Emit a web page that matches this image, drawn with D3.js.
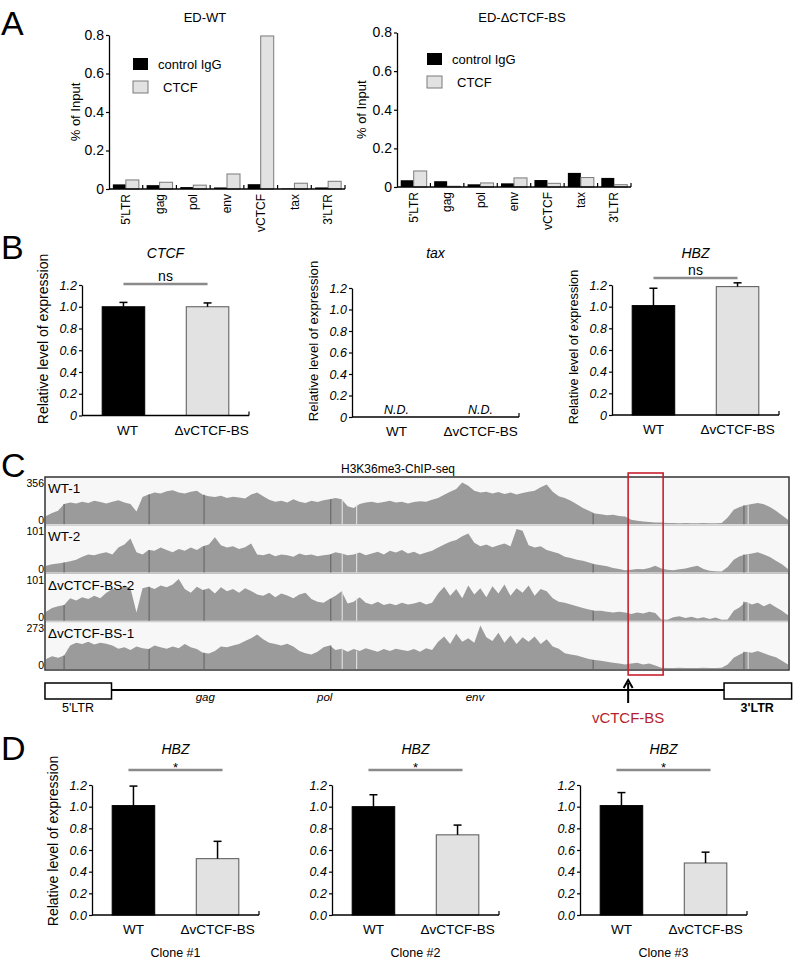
<!DOCTYPE html>
<html><head><meta charset="utf-8">
<script src="https://cdn.jsdelivr.net/npm/d3@7"></script>
<style>body{margin:0;background:#fff}</style>
</head><body>
<svg id="fig" width="796" height="962"></svg>
<script>
// ---------------- DATA ----------------
// Panel A: ChIP-qPCR (% of input)
const aCategories = ["5'LTR","gag","pol","env","vCTCF","tax","3'LTR"];
const aWtIgG   = [0.024,0.020,0.010,0.008,0.025,0.002,0.008];
const aWtCTCF  = [0.047,0.035,0.020,0.078,0.795,0.030,0.040];
const aDelIgG  = [0.035,0.030,0.014,0.019,0.036,0.073,0.047];
const aDelCTCF = [0.083,0.004,0.021,0.047,0.019,0.049,0.012];
const aYTicks  = [0,0.2,0.4,0.6,0.8];

// Panels B and D: relative expression
const exprGroups = ["WT","\u0394vCTCF-BS"];
const exprYTicks = [0,0.2,0.4,0.6,0.8,1.0,1.2];
const bCtcfMean = [1.00,1.00],  bCtcfErr = [0.04,0.035];
const bTaxMean  = [null,null]; // N.D.
const bHbzMean  = [1.01,1.185], bHbzErr  = [0.16,0.035];
const dClone1Mean = [1.01,0.52], dClone1Err = [0.18,0.16];
const dClone2Mean = [1.00,0.74], dClone2Err = [0.11,0.09];
const dClone3Mean = [1.01,0.48], dClone3Err = [0.12,0.10];

// Panel C: H3K36me3 ChIP-seq coverage (% of track scale), 124 bins along provirus
const trackNames = ["WT-1","WT-2","\u0394vCTCF-BS-2","\u0394vCTCF-BS-1"];
const trackMax   = [356,101,101,273];
const track1 = [18,25,30, 45,48,46,50,47,52,49,46,50,53,48,45, 28,60, 66,70,68,73,75,70,68,72,74, 65,62,60,63,58,61,59,57, 66,70,62, 54,50,52,48,55,50,47,52,49,53,55, 58,55,40,36,45, 48,50,47,49,52,48,50,46,49,51,50,54, 58,65,72,78,92,85, 74,70,72,68,71,67,70,66,69,72,74, 82,88,72, 62,58,52,44,36, 30,24,22,20,21,18,17, 10,8,6,5,4,4, 3,3,2,3,2,2,3,2,2,3, 15,32,38,42,45,47, 44,38,30,20,10];
const track2 = [15,18,20,22,25,28, 35,40,38,42,45,40, 55,62,75, 45,40,50, 48,55,50,45,52,48,55,50,58,62, 78, 60,55,58,52,56,64, 40,38,42,36,40,38,35,42,38,40,36,38,40, 45,42,38,40,44,38,42,46,40, 48,44,50,42,46,40,44,48, 55,62,68,72,80,86, 66,58,62,56,60,64,58, 96,92, 60,55,58,50,46,42, 35,32,28,26,22,18,16, 14,10,8,5, 6,8,7,10,15,9,6,5,7,9,12,15,8,4,3,2, 12,28,36,40,42,45, 40,34,26,18,8];
const track3 = [20,28,32,35, 50,45,52,48,55,50, 62,70,68,78,72, 18, 72,75,70,78,74,80,92, 70,62,75,68,72,60,74,65,70,62,72,66, 58,55,62,52,60,56,50,58,62,48, 42,40,48, 55,65, 38,42,52,40,36,42, 35,38,34,40,36,38,42,36,40, 60,75,55,70,50,78,58,72,52,76,60,80,55,72,62,78,55,70,65,50, 42,40,36,32,28,25,22, 22,20,18,20,18, 15,18,16,20,17, 3,2, 8,10,6,9,5,8,4,7,2, 3,22,30,42,36,40, 32,38,30,22,12];
const track4 = [22,28,25,30, 52,58,55,60,54,58,56,52, 45,48,42,50,46,44,52,48,45,50,46,55,48,44, 36,34,40, 50,48,52,55, 62,68,76,66, 58,55,52,56,50, 40,35,32,38, 48,52, 42,45,38,44,40,46,42,38,44,40,45,42,40,44,38,46,42, 60,72,55,78,60,68,58,96,70,62,80,58,74,55,70,60,72,55,66,50,45, 35,32,30,26,22,20,18, 16,14,12,10,12,14,10,12,8, 3,2,2,3,2,2,2,3,2,2,3, 10,25,32,38,36,40, 35,30,26,18,10];
const darkMarkBins  = [3.0,17.1,26.2,47.2,90.7,115.7];
const whiteMarkBins = [49.1,51.5,116.4];
// provirus map (bin coordinates)
const ltrBoxes   = [{name:"5'LTR",start:-0.17,end:10.86,label:5.3,bold:false},{name:"3'LTR",start:112.4,end:123.6,label:117.9,bold:true}];
const geneLabels = [{name:"gag",pos:26.4},{name:"pol",pos:46.2},{name:"env",pos:71.1}];
const ctcfSite   = {name:"vCTCF-BS",pos:96.5,boxStart:96.5,boxEnd:102.3};

// ---------------- DRAWING ----------------
const FONT = '"Liberation Sans", Arial, Helvetica, sans-serif';
const svg = d3.select("#fig").attr("font-family",FONT);

function txt(t,x,y,opt={}){
  const e = svg.append("text").attr("x",x).attr("y",y).text(t)
    .attr("font-size",opt.size||13).attr("fill",opt.fill||"#000")
    .attr("text-anchor",opt.anchor||"start");
  if(opt.italic) e.attr("font-style","italic");
  if(opt.bold) e.attr("font-weight","bold");
  if(opt.rotate) e.attr("transform",`rotate(-90,${x},${y})`);
  return e;
}
function styleAxis(g,fs,italic){
  g.attr("font-family",FONT).attr("font-size",fs);
  g.select(".domain").attr("stroke","#000").attr("stroke-width",1.3);
  g.selectAll(".tick line").attr("stroke","#000").attr("stroke-width",1.2);
  g.selectAll(".tick text").attr("fill","#000").attr("font-style",italic?"italic":"normal");
}

// panel letters
[["A",35],["B",259],["C",477],["D",760]].forEach(([l,y])=>txt(l,1,y,{size:34}));

// ---- Panel A ----
function chipChart(c){
  const x = d3.scaleBand().domain(aCategories).range([c.x0,c.x1]).padding(0);
  const y = d3.scaleLinear().domain([0,0.8]).range([c.y0,c.yTop]);
  const bw = 13;
  const g = svg.append("g");
  g.selectAll(".igg").data(aCategories).join("rect")
    .attr("x",d=>x(d)+x.bandwidth()/2-bw).attr("width",bw)
    .attr("y",(d,i)=>y(c.igg[i])).attr("height",(d,i)=>y(0)-y(c.igg[i]))
    .attr("fill","#000");
  g.selectAll(".ctcf").data(aCategories).join("rect")
    .attr("x",d=>x(d)+x.bandwidth()/2).attr("width",bw)
    .attr("y",(d,i)=>y(c.ctcf[i])).attr("height",(d,i)=>y(0)-y(c.ctcf[i]))
    .attr("fill","#e2e2e2").attr("stroke","#7a7a7a").attr("stroke-width",1);
  const ay = g.append("g").attr("transform",`translate(${c.x0},0)`)
    .call(d3.axisLeft(y).tickValues(aYTicks).tickSize(3).tickSizeOuter(0).tickPadding(2)
      .tickFormat(d=>d===0?"0":d3.format(".1f")(d)));
  styleAxis(ay,14,false);
  g.append("line").attr("x1",c.x0).attr("x2",c.x1).attr("y1",y(0)).attr("y2",y(0)).attr("stroke","#000").attr("stroke-width",1.5);
  aCategories.forEach((d,i)=>{
    const bx = x(d)+x.bandwidth();
    g.append("line").attr("x1",bx).attr("x2",bx).attr("y1",y(0)).attr("y2",y(0)-4).attr("stroke","#000").attr("stroke-width",1.2);
  });
  aCategories.forEach(d=>{
    txt(d,x(d)+x.bandwidth()/2,y(0)+5,{size:12,anchor:"end",rotate:true}).attr("dy","0.35em");
  });
  txt("% of Input",c.ylabX,(c.y0+c.yTop)/2,{size:13,anchor:"middle",rotate:true});
  txt(c.title,c.titleX,22,{size:13,anchor:"middle"});
  // legend
  svg.append("rect").attr("x",c.legX).attr("y",c.legY).attr("width",15).attr("height",12).attr("fill","#000");
  txt("control IgG",c.legX+25,c.legY+11,{size:13});
  svg.append("rect").attr("x",c.legX).attr("y",c.legY+23).attr("width",15).attr("height",12).attr("fill","#e2e2e2").attr("stroke","#7a7a7a");
  txt("CTCF",c.legX+30,c.legY+34,{size:13});
}
chipChart({x0:109,x1:345,y0:189,yTop:35,igg:aWtIgG,ctcf:aWtCTCF,title:"ED-WT",titleX:205,legX:133,legY:58,ylabX:80});
chipChart({x0:397,x1:631,y0:187,yTop:32.5,igg:aDelIgG,ctcf:aDelCTCF,title:"ED-\u0394CTCF-BS",titleX:522,legX:427,legY:53,ylabX:366});

// ---- Panels B & D ----
function exprChart(c){
  const W = 167;
  const x = d3.scaleBand().domain(exprGroups).range([c.x0,c.x0+W]).paddingInner(0.494).paddingOuter(0.24);
  const y = d3.scaleLinear().domain([0,1.2]).range([c.y0,c.yTop]);
  const g = svg.append("g");
  const cx = d=>x(d)+x.bandwidth()/2;
  exprGroups.forEach((d,i)=>{
    const v = c.mean[i];
    if(v==null){
      txt("N.D.",cx(d)+3,y(0)-3,{size:12.5,italic:true,anchor:"middle"});
      return;
    }
    g.append("rect").attr("x",x(d)).attr("width",x.bandwidth()).attr("y",y(v)).attr("height",y(0)-y(v))
      .attr("fill",i===0?"#000":"#e2e2e2").attr("stroke",i===0?"#000":"#555").attr("stroke-width",1);
    const e = c.err[i];
    g.append("line").attr("x1",cx(d)).attr("x2",cx(d)).attr("y1",y(v)).attr("y2",y(v+e)).attr("stroke","#000").attr("stroke-width",1.5);
    g.append("line").attr("x1",cx(d)-4).attr("x2",cx(d)+4).attr("y1",y(v+e)).attr("y2",y(v+e)).attr("stroke","#000").attr("stroke-width",1.5);
  });
  const ay = g.append("g").attr("transform",`translate(${c.x0},0)`)
    .call(d3.axisLeft(y).tickValues(exprYTicks).tickSize(3).tickSizeOuter(0).tickPadding(2)
      .tickFormat(d=>d===0?c.zero:d3.format(".1f")(d)));
  styleAxis(ay,12.5,true);
  g.append("line").attr("x1",c.x0).attr("x2",c.x0+W).attr("y1",y(0)).attr("y2",y(0)).attr("stroke","#000").attr("stroke-width",1.5);
  g.append("line").attr("x1",c.x0+W).attr("x2",c.x0+W).attr("y1",y(0)).attr("y2",y(0)-4).attr("stroke","#000").attr("stroke-width",1.2);
  exprGroups.forEach(d=>txt(d,cx(d)+(c.lblOff||0),y(0)+19,{size:13.5,anchor:"middle"}));
  const mid = c.x0+W/2;
  txt(c.title,mid,c.titleY,{size:14,italic:true,anchor:"middle"});
  if(c.sig){
    const ext = c.sigExt||0;
    g.append("line").attr("x1",cx(exprGroups[0])-ext).attr("x2",cx(exprGroups[1])+ext)
      .attr("y1",c.sigY).attr("y2",c.sigY).attr("stroke","#8a8a8a").attr("stroke-width",2.5);
    txt(c.sig,(cx(exprGroups[0])+cx(exprGroups[1]))/2,c.sigTextY,{size:c.sig==="*"?13:14,anchor:"middle"});
  }
  if(c.ylabX) txt("Relative level of expression",c.ylabX,c.ylabY,{size:c.ylabSize||14,anchor:"middle",rotate:true});
  if(c.clone) txt(c.clone,mid,957,{size:12.5,anchor:"middle"});
}
exprChart({x0:82,y0:415.5,yTop:285,mean:bCtcfMean,err:bCtcfErr,zero:"0",title:"CTCF",titleY:258,sig:"ns",sigY:284,sigTextY:281,ylabX:48,ylabY:339,ylabSize:14,lblOff:4});
exprChart({x0:352,y0:417,yTop:288,mean:bTaxMean,err:[0,0],zero:"0",title:"tax",titleY:258,ylabX:318,ylabY:341,ylabSize:13.2,lblOff:3});
exprChart({x0:612,y0:415,yTop:285,mean:bHbzMean,err:bHbzErr,zero:"0",title:"HBZ",titleY:258,sig:"ns",sigY:278,sigTextY:275,ylabX:578,ylabY:347,ylabSize:12.7});
exprChart({x0:92,y0:915,yTop:785,mean:dClone1Mean,err:dClone1Err,zero:"0.0",title:"HBZ",titleY:754,sig:"*",sigY:770,sigTextY:772,sigExt:5,ylabX:58,ylabY:841,ylabSize:14,clone:"Clone #1"});
exprChart({x0:332,y0:915,yTop:785,mean:dClone2Mean,err:dClone2Err,zero:"0.0",title:"HBZ",titleY:754,sig:"*",sigY:770,sigTextY:772,sigExt:5,clone:"Clone #2"});
exprChart({x0:580,y0:915,yTop:785,mean:dClone3Mean,err:dClone3Err,zero:"0.0",title:"HBZ",titleY:754,sig:"*",sigY:770,sigTextY:772,sigExt:5,clone:"Clone #3"});

// ---- Panel C ----
const tracks = [track1,track2,track3,track4];
const fL=45,fR=789,fT=477,fB=670;
const th = (fB-fT)/4;
const gx = d3.scaleLinear().domain([0,123]).range([46,788]);
txt("H3K36me3-ChIP-seq",398,473,{size:12,anchor:"middle"});
const gc = svg.append("g");
tracks.forEach((vals,k)=>{
  const top = fT+k*th, bot = top+th;
  gc.append("rect").attr("x",fL).attr("y",top).attr("width",fR-fL).attr("height",th).attr("fill","#f7f7f7");
  const y = d3.scaleLinear().domain([0,100]).range([bot-1,top+2]);
  gc.append("path").datum(vals)
    .attr("d",d3.area().x((d,i)=>gx(i)).y0(bot-1).y1(d=>y(d)))
    .attr("fill","#9b9b9b");
  darkMarkBins.forEach(b=>{
    const v = vals[Math.round(b)];
    gc.append("line").attr("x1",gx(b)).attr("x2",gx(b)).attr("y1",bot-1).attr("y2",y(v)).attr("stroke","#6a6a6a").attr("stroke-width",1.2);
  });
  whiteMarkBins.forEach(b=>{
    const v = vals[Math.round(b)];
    gc.append("line").attr("x1",gx(b)).attr("x2",gx(b)).attr("y1",bot-1).attr("y2",y(v)).attr("stroke","#e8e8e8").attr("stroke-width",1);
  });
  if(k>0) gc.append("line").attr("x1",fL).attr("x2",fR).attr("y1",top).attr("y2",top).attr("stroke","#c4c4c4").attr("stroke-width",1);
  txt(trackNames[k],48,top+16,{size:13.5});
  txt(String(trackMax[k]),44,top+10,{size:10.5,anchor:"end"});
  txt("0",44,bot-1,{size:10.5,anchor:"end"});
});
gc.append("rect").attr("x",fL).attr("y",fT).attr("width",fR-fL).attr("height",fB-fT).attr("fill","none").attr("stroke","#333").attr("stroke-width",1.5);
// red box
svg.append("rect").attr("x",gx(ctcfSite.boxStart)).attr("y",473).attr("width",gx(ctcfSite.boxEnd)-gx(ctcfSite.boxStart)).attr("height",202)
  .attr("fill","none").attr("stroke","#c8202e").attr("stroke-width",1.6);
// provirus map
svg.append("line").attr("x1",gx(ltrBoxes[0].end)).attr("x2",gx(ltrBoxes[1].start)).attr("y1",690).attr("y2",690).attr("stroke","#000").attr("stroke-width",2);
ltrBoxes.forEach(b=>{
  svg.append("rect").attr("x",gx(b.start)).attr("y",683).attr("width",gx(b.end)-gx(b.start)).attr("height",16)
    .attr("fill","#fff").attr("stroke","#000").attr("stroke-width",1.5);
  txt(b.name,gx(b.label),712,{size:12.5,anchor:"middle",bold:b.bold});
});
geneLabels.forEach(gl=>txt(gl.name,gx(gl.pos),701,{size:11.5,italic:true,anchor:"middle"}));
const ax0 = gx(ctcfSite.pos);
svg.append("line").attr("x1",ax0).attr("x2",ax0).attr("y1",683).attr("y2",703).attr("stroke","#000").attr("stroke-width",2);
svg.append("path").attr("d",`M${ax0-4.5},${688} L${ax0},${680} L${ax0+4.5},${688}`).attr("fill","none").attr("stroke","#000").attr("stroke-width",2);
txt(ctcfSite.name,ax0,723,{size:15,anchor:"middle",fill:"#b31f2e"});
</script>
</body></html>
